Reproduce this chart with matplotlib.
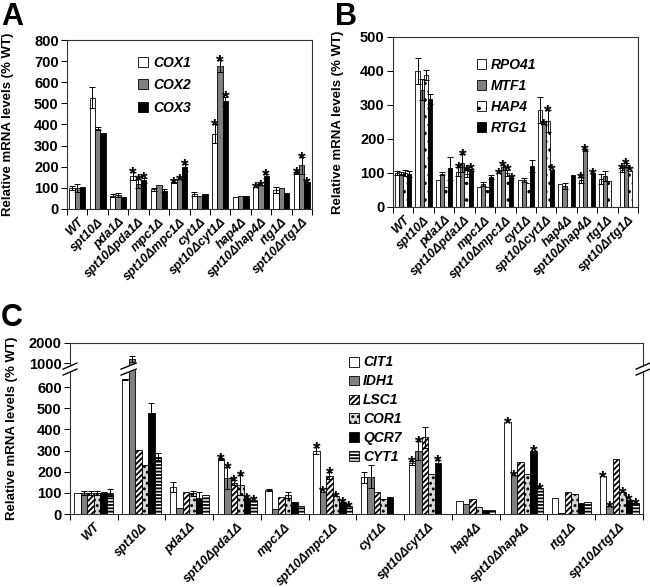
import numpy as np
import matplotlib
matplotlib.use('Agg')
import matplotlib.pyplot as plt

plt.rcParams['font.family'] = ['Liberation Sans', 'DejaVu Sans']
plt.rcParams['font.weight'] = 'bold'
plt.rcParams['hatch.linewidth'] = 1.3

strains = ['WT', 'spt10Δ', 'pda1Δ', 'spt10Δpda1Δ', 'mpc1Δ', 'spt10Δmpc1Δ',
           'cyt1Δ', 'spt10Δcyt1Δ', 'hap4Δ', 'spt10Δhap4Δ', 'rtg1Δ', 'spt10Δrtg1Δ']
nan = np.nan

###panel A : COX genes
cox_names = ['COX1', 'COX2', 'COX3']
cox1 = [100, 527, 63, 157, 93, 125, 72, 357, 55, 103, 90, 170]
cox1_err = [10, 50, 7, 18, 8, 4, 10, 43, 0, 0, 13, 5]
cox2 = [100, 380, 68, 120, 115, 140, 60, 677, 63, 114, 98, 207]
cox2_err = [18, 8, 10, 20, 0, 0, 0, 28, 0, 0, 0, 40]
cox3 = [105, 360, 57, 137, 87, 198, 72, 510, 62, 156, 77, 128]
cox3_err = [0, 0, 0, 12, 8, 16, 0, 22, 0, 10, 0, 0]
star_A = [3, 5, 7, 9, 11]

###panel B : mito transcription genes
b_names = ['RPO41', 'MTF1', 'HAP4', 'RTG1']
rpo41 = [100, 400, 80, 104, 58, 99, 78, 285, 68, 80, 82, 109]
rpo41_err = [6, 37, 0, 14, 0, 0, 0, 38, 0, 9, 14, 5]
mtf1 = [98, 345, 98, 129, 68, 117, 79, 245, 62, 168, 90, 124]
mtf1_err = [5, 30, 5, 26, 6, 7, 6, 0, 9, 3, 15, 6]
hap4 = [100, 388, 58, 98, 58, 101, 72, 253, nan, nan, 75, 107]
hap4_err = [8, 15, 0, 10, 0, 9, 0, 32, nan, nan, 0, 0]
rtg1 = [97, 318, 114, 109, 88, 85, 120, 110, 95, 101, nan, nan]
rtg1_err = [8, 14, 34, 4, 7, 0, 17, 0, 0, 0, nan, nan]
star_B = {3: [1, 1, 1, 1], 5: [1, 1, 1, 1], 7: [0, 1, 1, 1],
          9: [1, 1, 0, 1], 11: [1, 1, 1, 0]}

###panel C : TCA / respiration genes
c_names = ['CIT1', 'IDH1', 'LSC1', 'COR1', 'QCR7', 'CYT1']
cit1 = [100, 730, 129, 260, 113, 299, 174, 240, 61, 433, 76, 180]
cit1_err = [0, 6, 24, 3, 4, 16, 26, 10, 0, 0, 0, 0]
idh1 = [100, 1200, 30, 169, 22, 106, 177, 298, 48, 182, 5, 37]
idh1_err = [10, 130, 0, 51, 0, 0, 55, 45, 0, 0, 0, 0]
lsc1 = [100, 302, 102, 148, 82, 181, 105, 363, 70, 248, 105, 262]
lsc1_err = [10, 0, 0, 13, 0, 16, 0, 50, 0, 0, 0, 0]
cor1 = [100, 231, 98, 137, 90, 85, 72, 190, 32, 188, 95, 102]
cor1_err = [10, 0, 12, 47, 16, 0, 0, 0, 0, 0, 0, 0]
qcr7 = [100, 476, 77, 74, 58, 58, 80, 240, 21, 300, 53, 68]
qcr7_err = [6, 47, 29, 0, 0, 0, 0, 15, 0, 0, 0, 0]
cyt1 = [100, 271, 90, 66, 39, 39, nan, nan, 20, 121, 56, 52]
cyt1_err = [17, 16, 0, 0, 0, 0, nan, nan, 0, 0, 0, 0]
star_C = {3: [1, 1, 1, 1, 1, 1], 5: [1, 1, 1, 1, 1, 1], 7: [1, 1, 0, 0, 1, 0],
          9: [1, 1, 0, 0, 1, 1], 11: [1, 1, 0, 1, 1, 1]}

ylab = 'Relative mRNA levels (% WT)'


def draw_group(ax, vals, errs, styles, names, width, stars):
    x = np.arange(len(strains))
    n = len(vals)
    for k in range(n):
        pos = x + (k - (n - 1) / 2.0) * width
        fc, hatch = styles[k]
        ax.bar(pos, vals[k], width, color=fc, edgecolor='black',
               linewidth=0.6, hatch=hatch, label=names[k], zorder=2)
        v = np.array(vals[k], dtype=float)
        e = np.array(errs[k], dtype=float)
        m = (e > 0) & ~np.isnan(v)
        ax.errorbar(pos[m], v[m], yerr=e[m], fmt='none', ecolor='black',
                    elinewidth=0.7, capsize=2, capthick=0.7, zorder=3)
        for g, flags in stars.items():
            if flags[k] and not np.isnan(v[g]):
                top = v[g] + (0 if np.isnan(e[g]) else e[g])
                ax.annotate('*', (pos[g], top), xytext=(0, -5),
                            textcoords='offset points', ha='center',
                            va='baseline', fontsize=14)


def style_axes(ax, fs_x):
    ax.set_xlim(-0.5, len(strains) - 0.5)
    ax.set_xticks(np.arange(len(strains)))
    ax.set_xticklabels(strains, rotation=45, ha='right', rotation_mode='anchor',
                       fontsize=fs_x, style='italic', fontweight='bold')
    ax.set_xticks(np.arange(-0.5, len(strains)), minor=True)
    ax.tick_params(axis='x', which='major', length=0, pad=5)
    ax.tick_params(axis='x', which='minor', length=4, direction='out', width=0.7)
    ax.tick_params(axis='y', length=4, direction='out', width=0.7, labelsize=10.5, pad=2)
    for s in ax.spines.values():
        s.set_color('#333333')
        s.set_linewidth(0.8)
    ax.set_ylabel(ylab, fontsize=9.5, fontweight='bold')


fig = plt.figure(figsize=(6.5, 5.87), dpi=100)

###A
axA = fig.add_axes([67 / 650, 1 - 209 / 587, 245 / 650, 169 / 587])
stA = [('white', None), ('#808080', None), ('black', None)]
draw_group(axA, [cox1, cox2, cox3], [cox1_err, cox2_err, cox3_err], stA,
           cox_names, 0.26, {g: [1, 1, 1] for g in star_A})
axA.set_ylim(0, 800)
axA.set_yticks(np.arange(0, 801, 100))
style_axes(axA, 9)
axA.yaxis.set_label_coords(-0.215, 0.5)
axA.legend(loc='upper left', bbox_to_anchor=(0.24, 0.98), frameon=False,
           handlelength=0.7, handleheight=0.7, handletextpad=0.35,
           labelspacing=0.6, prop={'size': 10, 'style': 'italic', 'weight': 'bold'})

###B
axB = fig.add_axes([393 / 650, 1 - 207 / 587, 245 / 650, 170 / 587])
stB = [('white', None), ('#808080', None), ('white', '..'), ('black', None)]
draw_group(axB, [rpo41, mtf1, hap4, rtg1], [rpo41_err, mtf1_err, hap4_err, rtg1_err],
           stB, b_names, 0.2, star_B)
axB.set_ylim(0, 500)
axB.set_yticks(np.arange(0, 501, 100))
style_axes(axB, 9)
axB.yaxis.set_label_coords(-0.2, 0.5)
axB.legend(loc='upper left', bbox_to_anchor=(0.29, 0.95), frameon=False,
           handlelength=0.7, handleheight=0.7, handletextpad=0.35,
           labelspacing=0.5, prop={'size': 10, 'style': 'italic', 'weight': 'bold'})

###C : broken y axis
yk = [0, 600, 1000, 2000]
yd = [0, 600, 713, 808]


def fwd(v):
    return np.interp(v, yk, yd)


def inv(v):
    return np.interp(v, yd, yk)


axC = fig.add_axes([70 / 650, 1 - 514 / 587, 573 / 650, 171 / 587])
axC.set_yscale('function', functions=(fwd, inv))
stC = [('white', None), ('#808080', None), ('white', '//////'),
       ('#d8d8d8', '...'), ('black', None), ('white', '-----')]
draw_group(axC, [cit1, idh1, lsc1, cor1, qcr7, cyt1],
           [cit1_err, idh1_err, lsc1_err, cor1_err, qcr7_err, cyt1_err],
           stC, c_names, 0.136, star_C)
axC.set_ylim(0, 2000)
axC.set_yticks([0, 100, 200, 300, 400, 500, 600, 1000, 2000])
axC.set_yticklabels(['0', '100', '200', '300', '400', '500', '600', '1000', '2000'])
axC.yaxis.set_minor_locator(matplotlib.ticker.NullLocator())
style_axes(axC, 9)
axC.yaxis.set_label_coords(-0.09, 0.5)
axC.legend(loc='upper left', bbox_to_anchor=(0.465, 1.0), frameon=False,
           handlelength=0.7, handleheight=0.7, handletextpad=0.3,
           labelspacing=0.35, prop={'size': 10, 'style': 'italic', 'weight': 'bold'})

# break marks on the y axis and on the tall spt10 bars
ytr = axC.get_yaxis_transform()
for xa in [0.0, 1.0]:
    axC.fill([xa - 0.012, xa + 0.012, xa + 0.012, xa - 0.012],
             [800, 900, 1000, 900], color='white', transform=ytr,
             clip_on=False, zorder=5)
    for yy in [800, 900]:
        axC.plot([xa - 0.012, xa + 0.012], [yy, yy + 100], color='black',
                 lw=1.0, transform=ytr, clip_on=False, zorder=6)
bx0 = 1 - 2.5 * 0.136 - 0.09
bx1 = 1 - 1.5 * 0.136 + 0.09
axC.fill([bx0, bx1, bx1, bx0], [800, 900, 1000, 900], color='white', zorder=5)
for yy in [800, 900]:
    axC.plot([bx0, bx1], [yy, yy + 100], color='black', lw=1.0, zorder=6)

fig.text(1 / 650, 1 - 2 / 587, 'A', fontsize=22, fontweight='bold', va='top')
fig.text(335 / 650, 1 - 2 / 587, 'B', fontsize=22, fontweight='bold', va='top')
fig.text(1 / 650, 1 - 303 / 587, 'C', fontsize=22, fontweight='bold', va='top')

fig.savefig('out.png', dpi=100)
